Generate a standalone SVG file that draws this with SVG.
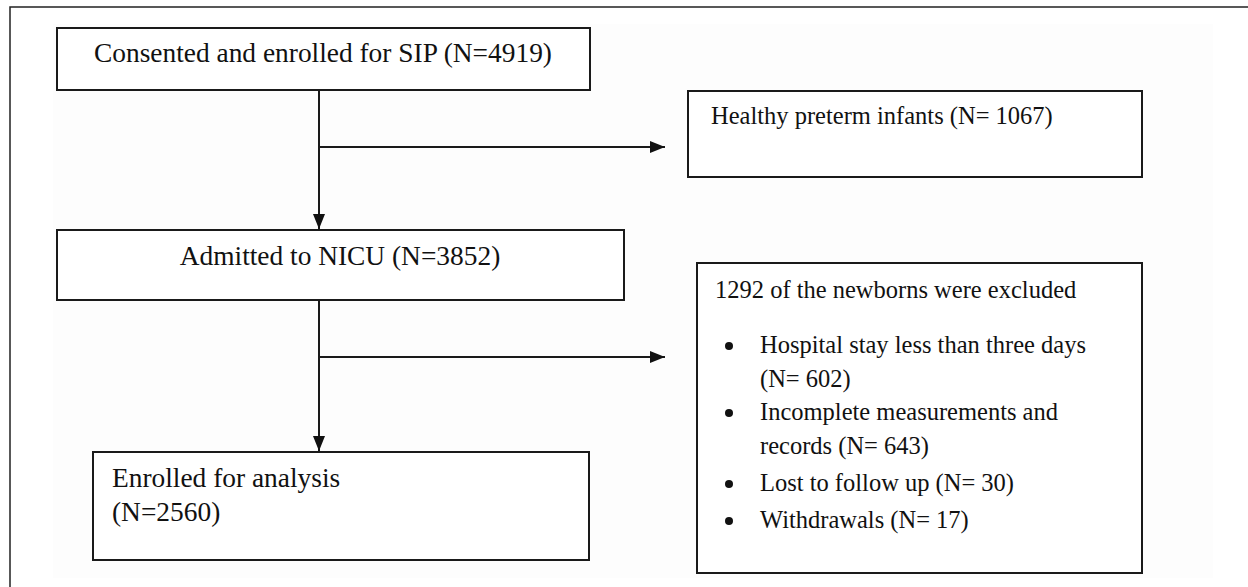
<svg xmlns="http://www.w3.org/2000/svg" width="1248" height="587" viewBox="0 0 1248 587">
<style>
.box{fill:#fff;stroke:#1a1a1a;stroke-width:2}
.t{font-family:"Liberation Serif","Times New Roman",serif;font-size:24.5px;fill:#111}
.L{font-size:27.4px}
.c{text-anchor:middle}
.ln{stroke:#1a1a1a;stroke-width:2;fill:none}
</style>
<defs>
<marker id="ah" viewBox="0 0 15 12" refX="15" refY="6" markerWidth="15" markerHeight="12" markerUnits="userSpaceOnUse" orient="auto">
<path d="M0,0 L15,6 L0,12 z" fill="#111"/>
</marker>
</defs>
<rect x="0" y="0" width="1248" height="587" fill="#fff"/>
<path d="M10,587 V7 H1248" stroke="#222" stroke-width="1.5" fill="none"/>
<rect x="53" y="24" width="1160" height="554" fill="#fdfdfd"/>

<g id="connectors">
<line class="ln" x1="319" y1="90" x2="319" y2="229" marker-end="url(#ah)"/>
<line class="ln" x1="319" y1="147" x2="665" y2="147" marker-end="url(#ah)"/>
<line class="ln" x1="319" y1="300" x2="319" y2="451" marker-end="url(#ah)"/>
<line class="ln" x1="319" y1="357" x2="665" y2="357" marker-end="url(#ah)"/>
</g>

<g id="consented">
<rect class="box" x="57" y="28" width="533" height="62"/>
<text class="t L c" x="323" y="62">Consented and enrolled for SIP (N=4919)</text>
</g>

<g id="healthy">
<rect class="box" x="688" y="91" width="454" height="86"/>
<text class="t" x="711" y="124">Healthy preterm infants (N= 1067)</text>
</g>

<g id="admitted">
<rect class="box" x="57" y="230" width="567" height="70"/>
<text class="t L c" x="340" y="265">Admitted to NICU (N=3852)</text>
</g>

<g id="excluded">
<rect class="box" x="697" y="263" width="445" height="310"/>
<text class="t" x="715" y="298">1292 of the newborns were excluded</text>
<text class="t" x="760" y="353">Hospital stay less than three days</text>
<text class="t" x="760" y="387">(N= 602)</text>
<text class="t" x="760" y="420">Incomplete measurements and</text>
<text class="t" x="760" y="454">records (N= 643)</text>
<text class="t" x="760" y="491">Lost to follow up (N= 30)</text>
<text class="t" x="760" y="528">Withdrawals (N= 17)</text>
<circle cx="729" cy="346" r="4" fill="#111"/>
<circle cx="729" cy="413" r="4" fill="#111"/>
<circle cx="729" cy="484" r="4" fill="#111"/>
<circle cx="729" cy="521" r="4" fill="#111"/>
</g>

<g id="enrolled">
<rect class="box" x="93" y="452" width="496" height="108"/>
<text class="t L" x="112" y="487">Enrolled for analysis</text>
<text class="t L" x="112" y="521">(N=2560)</text>
</g>
</svg>
